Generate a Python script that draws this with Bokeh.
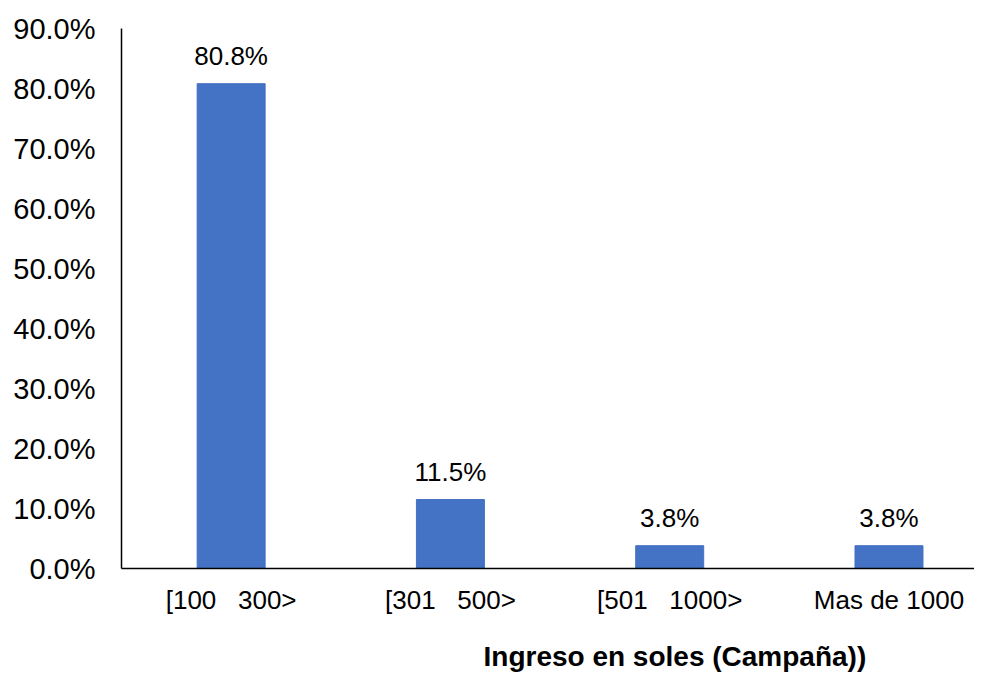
from bokeh.plotting import figure
from bokeh.models import Range1d, FixedTicker, ColumnDataSource, LabelSet, Title
from bokeh.core.properties import value
from bokeh.embed import file_html
from bokeh.resources import INLINE

GAP = " \u00a0 "
categories = ["[100" + GAP + "300>", "[301" + GAP + "500>", "[501" + GAP + "1000>", "Mas de 1000"]
values = [80.8, 11.5, 3.8, 3.8]
y_ticks = [0, 10, 20, 30, 40, 50, 60, 70, 80, 90]
x_title = "Ingreso en soles (Campaña))"

FONT = "Liberation Sans"
xs = list(range(len(categories)))
src = ColumnDataSource(dict(x=xs, v=values, lab=[f"{v:.1f}%" for v in values]))

p = figure(frame_width=853, frame_height=540, output_backend="svg", toolbar_location=None,
           x_range=Range1d(-0.5, 3.39), y_range=Range1d(0, 90),
           min_border_left=121, min_border_right=0, min_border_top=28, min_border_bottom=0)
p.outline_line_color = None
p.grid.grid_line_color = None

p.vbar(x="x", top="v", width=0.31, source=src, color="#4472C4")
p.add_layout(LabelSet(x="x", y="v", text="lab", source=src, text_align="center",
                      y_offset=13, text_font=value(FONT), text_font_size="26px",
                      text_color="#000000"))

p.yaxis.ticker = FixedTicker(ticks=y_ticks)
p.yaxis.major_label_overrides = {t: f"{t:.1f}%" for t in y_ticks}
p.xaxis.ticker = FixedTicker(ticks=xs)
p.xaxis.major_label_overrides = {i: c for i, c in zip(xs, categories)}
for ax in (p.xaxis[0], p.yaxis[0]):
    ax.major_tick_line_color = None
    ax.minor_tick_line_color = None
    ax.axis_line_color = "#000000"
    ax.axis_line_width = 1.5
    ax.major_label_text_font = FONT
    ax.major_label_text_color = "#000000"
p.yaxis.major_label_text_font_size = "29px"
p.xaxis.major_label_text_font_size = "26px"
p.yaxis.major_label_standoff = 20
p.xaxis.major_label_standoff = 10

t = Title(text=x_title, align="left", offset=362, text_font=FONT, text_font_size="28px",
          text_font_style="bold", text_color="#000000", standoff=43)
p.add_layout(t, "below")

open("out.html", "w").write(file_html(p, INLINE))
